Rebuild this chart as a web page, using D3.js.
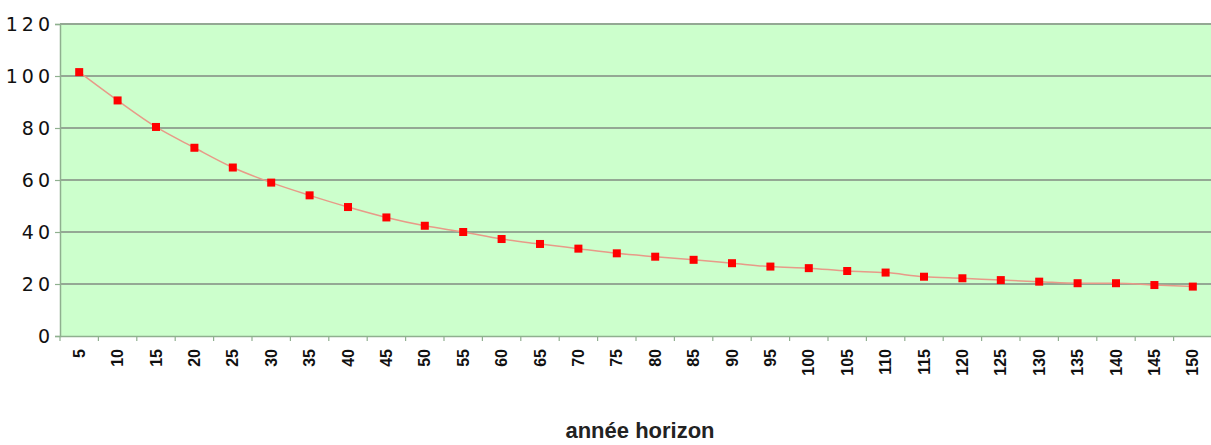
<!DOCTYPE html>
<html><head><meta charset="utf-8">
<script src="https://cdn.jsdelivr.net/npm/d3@7/dist/d3.min.js"></script>
<style>
body{margin:0;background:#fff;}
svg{display:block;}
</style></head>
<body><svg id="chart" width="1211" height="445"></svg>
<script>
const categories = ["5","10","15","20","25","30","35","40","45","50","55","60","65","70","75","80","85","90","95","100","105","110","115","120","125","130","135","140","145","150"];
const values = [101.5,90.6,80.4,72.4,64.8,59.0,54.1,49.6,45.6,42.4,40.0,37.3,35.4,33.6,31.8,30.5,29.3,28.0,26.7,26.1,25.0,24.4,22.8,22.2,21.5,20.9,20.3,20.3,19.6,19.0];
const yTicks = [0,20,40,60,80,100,120];
const xTitle = "année horizon";

const svg = d3.select("#chart");
const m = {left:60, top:24, right:-1, bottom:109};
const W = 1211, H = 445;
const x = d3.scaleBand().domain(categories).range([m.left, W - m.right]).padding(0);
const y = d3.scaleLinear().domain([0,120]).range([H - m.bottom, m.top]);

svg.append("rect").attr("x", m.left).attr("y", y(120)).attr("width", W - m.right - m.left).attr("height", y(0)-y(120)).attr("fill", "#ccffcc");

// gridlines
svg.append("g").selectAll("line").data(yTicks.filter(d=>d>0)).join("line")
  .attr("x1", m.left).attr("x2", W).attr("y1", d=>y(d)).attr("y2", d=>y(d))
  .attr("stroke", "#94a894").attr("stroke-width", 1.8);

// y axis
const yAxis = svg.append("g").attr("transform", `translate(${m.left},0)`)
  .call(d3.axisLeft(y).tickValues(yTicks).tickSize(5).tickPadding(5));
yAxis.select(".domain").attr("stroke", "#8fb08f").attr("stroke-width", 1.5);
yAxis.selectAll(".tick line").attr("stroke", "#8fb08f").attr("stroke-width", 1.2);
yAxis.selectAll(".tick text").attr("font-family", "'DejaVu Sans', Verdana, sans-serif")
  .attr("font-size", 19).attr("letter-spacing", "4px").attr("fill", "#111").attr("dx", 4);

// x axis
const xAxis = svg.append("g").attr("transform", `translate(0,${y(0)})`)
  .call(d3.axisBottom(x).tickSize(0).tickPadding(0));
xAxis.select(".domain").attr("stroke", "#8fb08f").attr("stroke-width", 1.5);
xAxis.selectAll(".tick text")
  .attr("font-family", "'Liberation Sans Narrow', 'Arial Narrow', 'Liberation Sans', sans-serif")
  .attr("font-weight", "bold").attr("font-size", 16).attr("fill", "#111")
  .attr("text-anchor", "end").attr("transform", "rotate(-90)")
  .attr("x", -13).attr("y", 0).attr("dy", "0.35em");
// boundary ticks
svg.append("g").selectAll("line").data(categories).join("line")
  .attr("x1", d=>x(d)).attr("x2", d=>x(d)).attr("y1", y(0)).attr("y2", y(0)+5)
  .attr("stroke", "#8fb08f").attr("stroke-width", 1.2);

// line
const line = d3.line().x((d,i)=>x(categories[i]) + x.bandwidth()/2).y(d=>y(d)).curve(d3.curveMonotoneX);
svg.append("path").datum(values).attr("d", line).attr("fill", "none").attr("stroke", "#e89a88").attr("stroke-width", 1.5);

// markers
svg.append("g").selectAll("rect").data(values).join("rect")
  .attr("x", (d,i)=>x(categories[i]) + x.bandwidth()/2 - 4)
  .attr("y", d=>y(d) - 4).attr("width", 8).attr("height", 8).attr("fill", "#ff0000");

svg.append("text").attr("x", 640).attr("y", 438).attr("text-anchor", "middle")
  .attr("font-family", "'Liberation Sans', Arial, sans-serif").attr("font-weight", "bold")
  .attr("font-size", 22).attr("fill", "#222").text(xTitle);
</script></body></html>
